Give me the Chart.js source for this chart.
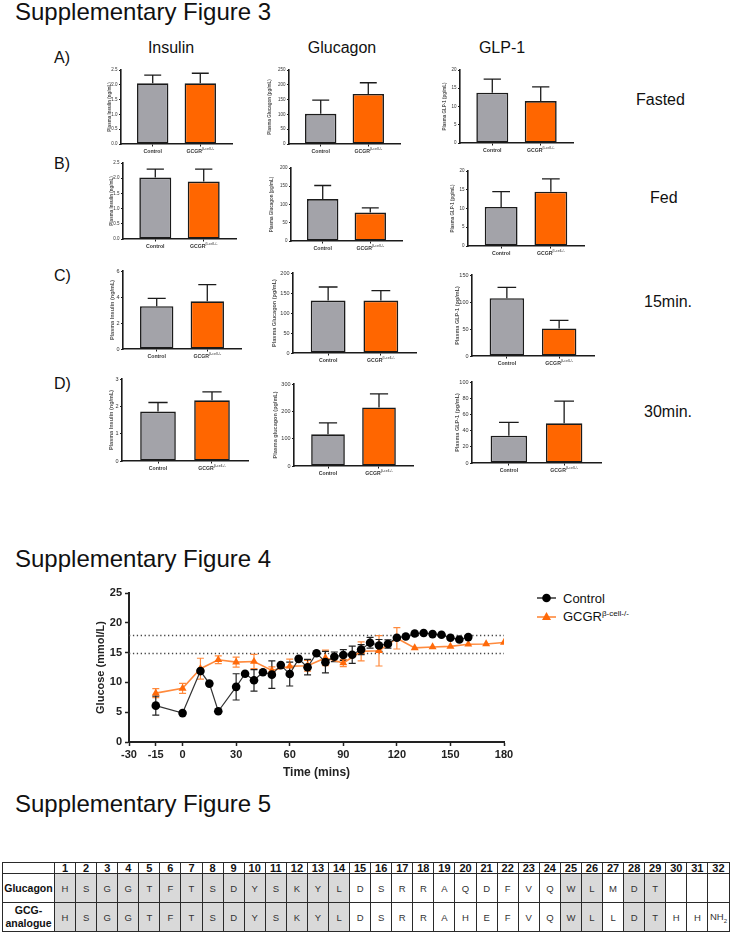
<!DOCTYPE html>
<html>
<head>
<meta charset="utf-8">
<title>Supplementary Figures 3-5</title>
<script src="https://cdn.jsdelivr.net/npm/chart.js@4.4.1/dist/chart.umd.min.js"></script>
<style>
  html, body { margin: 0; padding: 0; background: #fff; }
  body { width: 731px; height: 936px; position: relative; overflow: hidden;
         font-family: "Liberation Sans", Arial, sans-serif; color: #111; }
  .txt { position: absolute; white-space: nowrap; line-height: 1; }
  .title { font-size: 24px; line-height: 24px; left: 15px; }
  .lbl { font-size: 16px; line-height: 16px; }
  .head { transform: translateX(-50%); }
  canvas { position: absolute; }
  #legend { position: absolute; left: 537px; top: 589px; font-size: 13px; color: #111; }
  #legend .row { display: flex; align-items: center; height: 18px; white-space: nowrap; }
  #legend svg { margin-right: 7px; }
  #legend sup { font-size: 8px; vertical-align: 5px; line-height: 0; }
  #seq { position: absolute; left: 2px; top: 862px; width: 727px; border-collapse: collapse;
         table-layout: fixed; }
  #seq td { border: 1.5px solid #2a2a2a; padding: 0; text-align: center; font-size: 9.5px;
            color: #333; overflow: hidden; white-space: nowrap; }
  #seq tr.num td { height: 10px; line-height: 10px; font-size: 11px; font-weight: bold; color: #111; }
  #seq tr.res td { height: 28px; }
  #seq td.name { font-weight: bold; font-size: 10.5px; line-height: 13px; color: #111; white-space: normal; }
  #seq td.shade { background: #d9d9d9; }
  #seq sub { font-size: 6px; }
</style>
</head>
<body>

<div class="txt title" style="top:0px">Supplementary Figure 3</div>
<div class="txt title" style="top:547px">Supplementary Figure 4</div>
<div class="txt title" style="top:792px">Supplementary Figure 5</div>

<div id="legend">
  <div class="row">
    <svg width="19" height="10"><line x1="0" y1="5" x2="19" y2="5" stroke="#333" stroke-width="1.5"/><circle cx="9.5" cy="5" r="4.3" fill="#000"/></svg>
    <span>Control</span>
  </div>
  <div class="row">
    <svg width="19" height="10"><line x1="0" y1="6" x2="19" y2="6" stroke="#ff8a3d" stroke-width="1.6"/><polygon points="9.5,1 14,9 5,9" fill="#ff6a0a"/></svg>
    <span>GCGR<sup>β-cell-/-</sup></span>
  </div>
</div>

<canvas id="fig4" width="430" height="202" style="left:90px; top:580px"></canvas>

<table id="seq"></table>

<script>
// ── Supplementary Figure 3: plasma hormones (mean, upper error) ──────────
const groups   = ['Control', 'GCGR'];
const groupSup = ['', 'β-cell-/-'];
const hormones = ['Insulin', 'Glucagon', 'GLP-1'];
const states   = ['Fasted', 'Fed', '15min.', '30min.'];
const rowTags  = ['A)', 'B)', 'C)', 'D)'];

// [insulin, glucagon, GLP-1] -> [Control, GCGR]
const fastedMean = [[2.05, 2.05], [102, 169], [13.8, 11.5]];
const fastedErr  = [[0.28, 0.34], [46, 38], [3.7, 3.9]];
const fedMean    = [[2.02, 1.89], [115, 78], [10.4, 14.5]];
const fedErr     = [[0.28, 0.41], [37, 13], [4.1, 3.4]];
const min15Mean  = [[3.29, 3.67], [131, 131], [107, 51]];
const min15Err   = [[0.61, 1.28], [34, 25], [20, 15]];
const min30Mean  = [[1.81, 2.22], [116, 214], [33.7, 49]];
const min30Err   = [[0.33, 0.31], [42, 50], [16.5, 27.5]];

// y axes per row: top value and tick step
const yMax  = [[2.5, 250, 20], [2.5, 200, 20], [6, 200, 150], [3, 300, 100]];
const yStep = [[0.5, 50, 5], [0.5, 50, 5], [2, 50, 50], [1, 100, 20]];
const yTitles = [
  ['Plasma Insulin (ng/mL)', 'Plasma Glucagon (pg/mL)', 'Plasma GLP-1 (pg/mL)'],
  ['Plasma Insulin (ng/mL)', 'Plasma Glucagon (pg/mL)', 'Plasma GLP-1 (pg/mL)'],
  ['Plasma Insulin (ng/mL)', 'Plasma Glucagon (pg/mL)', 'Plasma GLP-1 (pg/mL)'],
  ['Plasma Insulin (ng/mL)', 'Plasma glucagon (pg/mL)', 'Plasma GLP-1 (pg/mL)']
];

// ── Supplementary Figure 4: glucose time course ──────────────────────────
const ctrlTime = [-15, 0, 10, 15, 20, 30, 35, 40, 45, 50, 55, 60, 65, 70, 75, 80,
                  85, 90, 95, 100, 105, 110, 115, 120, 125, 130, 135, 140, 145, 150, 155, 160];
const ctrlMean = [6.1, 4.85, 11.9, 9.8, 5.15, 9.25, 11.45, 10.35, 11.7, 11.3, 12.9, 11.4, 13.95, 12.55, 14.9, 13.4,
                  14.3, 14.6, 14.65, 15.5, 16.65, 16.2, 16.45, 17.5, 17.7, 18.2, 18.3, 18.1, 18.0, 17.5, 17.2, 17.6];
const ctrlErr  = [1.6, 0, 0.3, 0, 0, 2.2, 0, 1.8, 0, 2.3, 0, 2.0, 0, 1.3, 0, 1.8,
                  0.8, 0.9, 1.45, 0.85, 0.9, 1.0, 0.7, 0, 0, 0, 0, 0, 0, 0, 0, 0];
const gcgrTime = [-15, 0, 10, 20, 30, 40, 50, 60, 70, 80, 90, 100, 110, 120, 130, 140, 150, 160, 170, 180];
const gcgrMean = [8.2, 9.0, 12.3, 13.8, 13.4, 13.5, 12.0, 12.7, 12.8, 14.1, 13.25, 15.2, 15.3, 17.4,
                  15.8, 15.95, 16.05, 16.4, 16.45, 16.7];
const gcgrErr  = [0.75, 0.85, 1.75, 0.65, 0.85, 1.2, 0.6, 1.2, 0.9, 1.3, 0.6, 1.6, 2.55, 1.8,
                  0, 0, 0, 0, 0, 0];
const glucoseRef = [15, 18];
const timeTicks  = [-30, -15, 0, 30, 60, 90, 120, 150, 180];

// ── Supplementary Figure 5: peptide sequences ────────────────────────────
const residueNo   = Array.from({length: 32}, (_, i) => i + 1);
const glucagonSeq = ['H','S','G','G','T','F','T','S','D','Y','S','K','Y','L','D','S','R','R','A','Q','D','F','V','Q','W','L','M','D','T'];
const analogueSeq = ['H','S','G','G','T','F','T','S','D','Y','S','K','Y','L','D','S','R','R','A','H','E','F','V','Q','W','L','L','D','T','H','H','NH2'];
const shadedPos   = [1,2,3,4,5,6,7,8,9,10,11,12,13,14,25,26,28,29];

// ── layout (page pixels) ─────────────────────────────────────────────────
// plot area of each small panel: [axis x, top y, right x, zero y]
const panelBox = [
  [[121, 70, 232, 144], [289, 70, 400, 144], [460, 70, 573, 143]],
  [[123, 163, 236, 239], [291, 168, 402, 241], [468, 171, 584, 246]],
  [[123, 271, 241, 349], [293, 273, 416, 353], [472, 275, 594, 356]],
  [[122, 379, 248, 461], [294, 384, 413, 466], [472, 382, 601, 463]]
];
const axisRoom = [14, 22, 18];
const tickSize = [4.5, 4.5, 5.5, 5.5];   // per row: later panels were exported larger
const headX    = [171, 342, 502];
const tagTop   = [49.5, 155.5, 267.5, 375.5];
const stateX   = [636, 650, 644, 644];
const stateTop = [92, 189.5, 294, 404];

const FONT   = '"Liberation Sans", Arial, sans-serif';
const GREY   = '#a3a3a9';
const ORANGE = '#ff6600';
const INK    = '#1b1b1b';
Chart.defaults.font.family = FONT;

const $ = id => document.getElementById(id);

function addText(cls, text, left, top) {
  const d = document.createElement('div');
  d.className = 'txt ' + cls;
  d.textContent = text;
  d.style.left = left + 'px';
  d.style.top = top + 'px';
  document.body.appendChild(d);
}

hormones.forEach((h, i) => addText('lbl head', h, headX[i], 40));
rowTags.forEach((t, i) => addText('lbl', t, 54, tagTop[i]));
states.forEach((s, i) => addText('lbl', s, stateX[i], stateTop[i]));

// ── plugins ──────────────────────────────────────────────────────────────
const barErrors = {
  id: 'barErrors',
  afterDatasetsDraw(chart, args, opts) {
    const { ctx } = chart;
    const y = chart.scales.y;
    ctx.save();
    ctx.strokeStyle = INK;
    ctx.lineWidth = 1.3;
    chart.getDatasetMeta(0).data.forEach((bar, i) => {
      const top = y.getPixelForValue(opts.mean[i] + opts.err[i]);
      const cap = bar.width * 0.27;
      ctx.beginPath();
      ctx.moveTo(bar.x, bar.y);
      ctx.lineTo(bar.x, top);
      ctx.moveTo(bar.x - cap, top);
      ctx.lineTo(bar.x + cap, top);
      ctx.stroke();
    });
    ctx.restore();
  }
};

const groupLabels = {
  id: 'groupLabels',
  afterDraw(chart) {
    const { ctx, chartArea } = chart;
    const x = chart.scales.x;
    const base = chartArea.bottom + 8.5;
    ctx.save();
    ctx.fillStyle = '#333';
    ctx.textAlign = 'left';
    groups.forEach((g, i) => {
      const cx = x.getPixelForValue(i);
      ctx.font = `bold 5.2px ${FONT}`;
      const w1 = ctx.measureText(g).width;
      ctx.font = `3.6px ${FONT}`;
      const w2 = groupSup[i] ? ctx.measureText(groupSup[i]).width : 0;
      const left = cx - (w1 + w2) / 2;
      ctx.font = `bold 5.2px ${FONT}`;
      ctx.fillText(g, left, base);
      if (w2) {
        ctx.font = `3.6px ${FONT}`;
        ctx.fillText(groupSup[i], left + w1, base - 2.5);
      }
    });
    ctx.restore();
  }
};

const refLines = {
  id: 'refLines',
  beforeDatasetsDraw(chart) {
    const { ctx, chartArea } = chart;
    const y = chart.scales.y;
    ctx.save();
    ctx.strokeStyle = '#444';
    ctx.lineWidth = 1.3;
    ctx.setLineDash([1.3, 2.6]);
    glucoseRef.forEach(v => {
      const py = Math.round(y.getPixelForValue(v)) + 0.5;
      ctx.beginPath();
      ctx.moveTo(chartArea.left, py);
      ctx.lineTo(chartArea.right, py);
      ctx.stroke();
    });
    ctx.restore();
  }
};

const lineErrors = {
  id: 'lineErrors',
  beforeDatasetsDraw(chart) {
    const { ctx } = chart;
    const x = chart.scales.x, y = chart.scales.y;
    ctx.save();
    ctx.lineWidth = 1.2;
    chart.data.datasets.slice().reverse().forEach(ds => {
      ctx.strokeStyle = ds.errColor;
      ds.data.forEach((p, i) => {
        const e = ds.errors[i];
        if (!e) return;
        const px = x.getPixelForValue(p.x);
        const hi = y.getPixelForValue(p.y + e), lo = y.getPixelForValue(p.y - e);
        ctx.beginPath();
        ctx.moveTo(px, hi); ctx.lineTo(px, lo);
        ctx.moveTo(px - 3.5, hi); ctx.lineTo(px + 3.5, hi);
        ctx.moveTo(px - 3.5, lo); ctx.lineTo(px + 3.5, lo);
        ctx.stroke();
      });
    });
    ctx.restore();
  }
};

// ── Figure 3 panels ──────────────────────────────────────────────────────
const rowsMean = [fastedMean, fedMean, min15Mean, min30Mean];
const rowsErr  = [fastedErr, fedErr, min15Err, min30Err];

function makeBarPanel(r, c) {
  const [x0, y0, x1, y1] = panelBox[r][c];
  const padL = axisRoom[c], padT = 5, padR = 3, padB = 12;
  const cv = document.createElement('canvas');
  cv.width  = x1 - x0 + padL + padR;
  cv.height = y1 - y0 + padT + padB;
  cv.style.left = (x0 - padL) + 'px';
  cv.style.top  = (y0 - padT) + 'px';
  document.body.appendChild(cv);

  const mean = rowsMean[r][c], err = rowsErr[r][c];
  const dec  = yStep[r][c] < 1 ? 1 : 0;

  new Chart(cv, {
    type: 'bar',
    data: {
      datasets: [{
        data: mean.map((v, i) => ({ x: i, y: v })),
        backgroundColor: [GREY, ORANGE],
        borderColor: INK,
        borderWidth: 1.6,
        borderSkipped: false,
        barPercentage: 0.66,
        categoryPercentage: 1
      }]
    },
    options: {
      responsive: false, animation: false, devicePixelRatio: 1,
      layout: { padding: { top: padT, right: padR, left: 0, bottom: 0 } },
      plugins: {
        legend: { display: false }, tooltip: { enabled: false },
        barErrors: { mean, err }
      },
      scales: {
        x: {
          type: 'linear', min: -2 / 3, max: 5 / 3, bounds: 'data', offset: false,
          afterBuildTicks: s => { s.ticks = groups.map((_, i) => ({ value: i })); },
          afterFit: s => { s.height = padB; },
          ticks: { display: false },
          grid: { offset: false, drawOnChartArea: false, tickLength: 2.5, tickWidth: 1, color: INK },
          border: { color: INK, width: 1.6 }
        },
        y: {
          min: 0, max: yMax[r][c],
          afterFit: s => { s.width = padL; },
          ticks: { stepSize: yStep[r][c], font: { size: tickSize[r] }, color: '#333', padding: 1.5,
                   callback: v => v.toFixed(dec) },
          grid: { drawOnChartArea: false, tickLength: 2, tickWidth: 1, color: INK },
          border: { color: INK, width: 1.6 },
          title: { display: true, text: yTitles[r][c], font: { size: tickSize[r], weight: 'bold' },
                   color: '#555', padding: 0 }
        }
      }
    },
    plugins: [barErrors, groupLabels]
  });
}

rowsMean.forEach((row, r) => row.forEach((_, c) => makeBarPanel(r, c)));

// ── Figure 4 ─────────────────────────────────────────────────────────────
new Chart($('fig4'), {
  type: 'line',
  data: {
    datasets: [
      {
        label: 'Control',
        data: ctrlTime.map((t, i) => ({ x: t, y: ctrlMean[i] })),
        errors: ctrlErr, errColor: '#222',
        borderColor: '#333', borderWidth: 1.2, tension: 0,
        pointStyle: 'circle', pointRadius: 4.3,
        pointBackgroundColor: '#000', pointBorderColor: '#000', pointBorderWidth: 0
      },
      {
        label: 'GCGRβ-cell-/-',
        data: gcgrTime.map((t, i) => ({ x: t, y: gcgrMean[i] })),
        errors: gcgrErr, errColor: '#ff8a3d',
        borderColor: '#ff8a3d', borderWidth: 1.6, tension: 0,
        pointStyle: 'triangle', pointRadius: 4.6,
        pointBackgroundColor: '#ff6a0a', pointBorderColor: '#ff6a0a', pointBorderWidth: 0
      }
    ]
  },
  options: {
    responsive: false, animation: false, devicePixelRatio: 1,
    layout: { padding: { top: 13, right: 16, left: 0, bottom: 0 } },
    plugins: { legend: { display: false }, tooltip: { enabled: false } },
    scales: {
      x: {
        type: 'linear', min: -30, max: 180, bounds: 'data',
        afterBuildTicks: s => { s.ticks = timeTicks.map(v => ({ value: v })); },
        afterFit: s => { s.height = 40; },
        ticks: { font: { size: 11, weight: 'bold' }, color: '#222', padding: 2,
                 maxRotation: 0, autoSkip: false },
        grid: { drawOnChartArea: false, tickLength: 4, tickWidth: 1.5, color: '#222' },
        border: { color: '#222', width: 2 },
        title: { display: true, text: 'Time (mins)', font: { size: 12, weight: 'bold' },
                 color: '#222', padding: { top: 0, bottom: 2 } }
      },
      y: {
        min: 0, max: 25,
        afterFit: s => { s.width = 39; },
        ticks: { stepSize: 5, font: { size: 11, weight: 'bold' }, color: '#222', padding: 3 },
        grid: { drawOnChartArea: false, tickLength: 4, tickWidth: 1.5, color: '#222' },
        border: { color: '#222', width: 2 },
        title: { display: true, text: 'Glucose (mmol/L)', font: { size: 11, weight: 'bold' },
                 color: '#222', padding: { top: 4, bottom: 0 } }
      }
    }
  },
  plugins: [refLines, lineErrors]
});

// ── Figure 5 table ───────────────────────────────────────────────────────
function buildTable() {
  const tbl = $('seq');
  const cg = document.createElement('colgroup');
  const c0 = document.createElement('col'); c0.style.width = '52px'; cg.appendChild(c0);
  residueNo.forEach(() => { const c = document.createElement('col'); c.style.width = '21.09px'; cg.appendChild(c); });
  tbl.appendChild(cg);

  const head = tbl.insertRow();
  head.className = 'num';
  head.insertCell();
  residueNo.forEach(n => { head.insertCell().textContent = n; });

  [['Glucagon', glucagonSeq], ['GCG-<br>analogue', analogueSeq]].forEach(([name, seq]) => {
    const tr = tbl.insertRow();
    tr.className = 'res';
    const nm = tr.insertCell();
    nm.className = 'name';
    nm.innerHTML = name;
    residueNo.forEach((n, i) => {
      const td = tr.insertCell();
      const aa = seq[i] || '';
      if (aa === 'NH2') td.innerHTML = 'NH<sub>2</sub>';
      else td.textContent = aa;
      if (aa && shadedPos.includes(n)) td.className = 'shade';
    });
  });
}
buildTable();
</script>
</body>
</html>
